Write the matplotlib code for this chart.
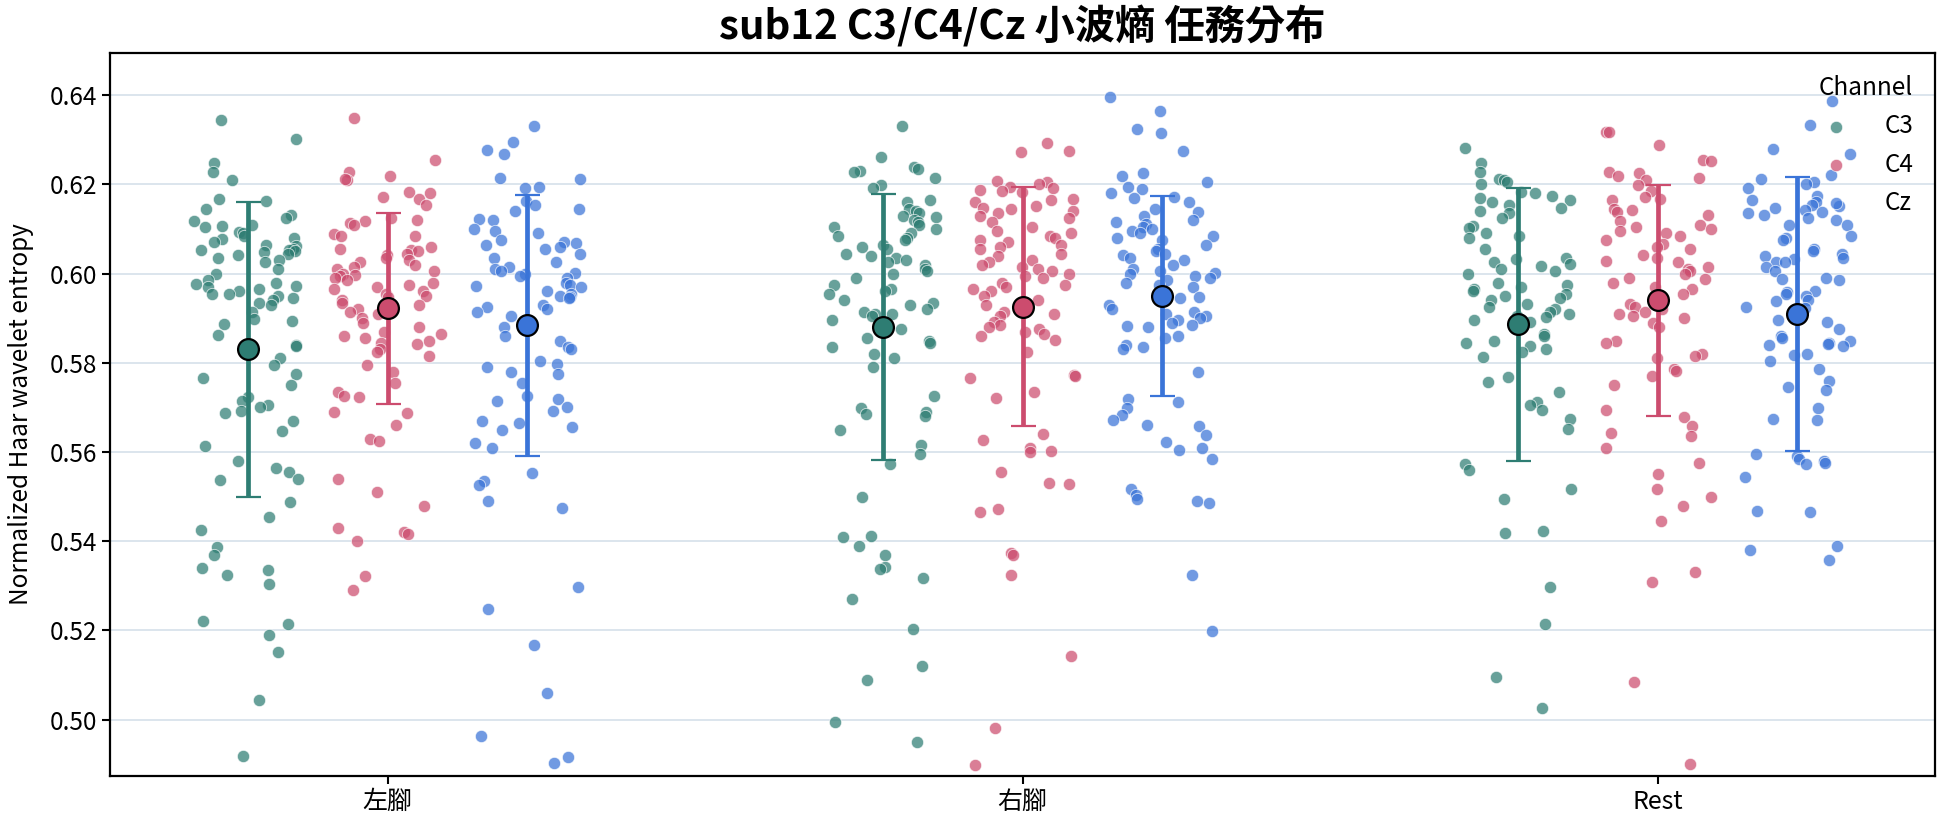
import numpy as np
import matplotlib
matplotlib.use("Agg")
import matplotlib.pyplot as plt

plt.rcParams['font.family'] = ['Noto Sans CJK TC', 'DejaVu Sans']

tasks = ['左腳', '右腳', 'Rest']
channels = ['C3', 'C4', 'Cz']
colors = ['#2e7d73', '#cc4c6e', '#3a74d8']

# per-trial entropy values
left_c3 = [0.6345, 0.6303, 0.6247, 0.6229, 0.6210, 0.6168, 0.6162, 0.6145, 0.6132, 0.6125,
           0.6119, 0.6110, 0.6105, 0.6107, 0.6094, 0.6090, 0.6085, 0.6080, 0.6078, 0.6072,
           0.6065, 0.6062, 0.6055, 0.6054, 0.6052, 0.6050, 0.6048, 0.6045, 0.6042, 0.6035,
           0.6030, 0.6025, 0.6010, 0.6000, 0.5985, 0.5980, 0.5977, 0.5973, 0.5970, 0.5965,
           0.5960, 0.5955, 0.5954, 0.5950, 0.5945, 0.5940, 0.5935, 0.5930, 0.5915, 0.5898,
           0.5893, 0.5888, 0.5862, 0.5840, 0.5838, 0.5835, 0.5810, 0.5795, 0.5775, 0.5765,
           0.5750, 0.5724, 0.5715, 0.5705, 0.5700, 0.5692, 0.5688, 0.5670, 0.5648, 0.5613,
           0.5580, 0.5565, 0.5555, 0.5540, 0.5538, 0.5487, 0.5455, 0.5425, 0.5388, 0.5370,
           0.5340, 0.5335, 0.5325, 0.5305, 0.5220, 0.5215, 0.5190, 0.5152, 0.5044, 0.4918]
left_c4 = [0.6350, 0.6255, 0.6227, 0.6220, 0.6210, 0.6213, 0.6182, 0.6180, 0.6172, 0.6168,
           0.6155, 0.6125, 0.6120, 0.6118, 0.6114, 0.6110, 0.6088, 0.6085, 0.6084, 0.6060,
           0.6055, 0.6052, 0.6050, 0.6045, 0.6042, 0.6035, 0.6030, 0.6025, 0.6020, 0.6015,
           0.6010, 0.6005, 0.6000, 0.5998, 0.5995, 0.5990, 0.5985, 0.5980, 0.5975, 0.5970,
           0.5965, 0.5960, 0.5955, 0.5950, 0.5947, 0.5940, 0.5935, 0.5930, 0.5920, 0.5915,
           0.5910, 0.5900, 0.5890, 0.5880, 0.5870, 0.5865, 0.5860, 0.5855, 0.5850, 0.5845,
           0.5843, 0.5830, 0.5825, 0.5815, 0.5795, 0.5780, 0.5755, 0.5735, 0.5725, 0.5724,
           0.5690, 0.5688, 0.5660, 0.5630, 0.5625, 0.5540, 0.5510, 0.5480, 0.5430, 0.5420,
           0.5415, 0.5400, 0.5323, 0.5290]
left_cz = [0.6332, 0.6295, 0.6277, 0.6268, 0.6215, 0.6213, 0.6195, 0.6192, 0.6162, 0.6155,
           0.6145, 0.6140, 0.6122, 0.6120, 0.6100, 0.6095, 0.6090, 0.6075, 0.6070, 0.6069,
           0.6065, 0.6060, 0.6055, 0.6045, 0.6035, 0.6025, 0.6015, 0.6010, 0.6005, 0.6002,
           0.6000, 0.5995, 0.5990, 0.5980, 0.5975, 0.5973, 0.5970, 0.5960, 0.5955, 0.5950,
           0.5948, 0.5945, 0.5930, 0.5925, 0.5920, 0.5915, 0.5905, 0.5880, 0.5860, 0.5850,
           0.5835, 0.5830, 0.5805, 0.5798, 0.5790, 0.5780, 0.5775, 0.5755, 0.5725, 0.5718,
           0.5715, 0.5702, 0.5692, 0.5670, 0.5665, 0.5655, 0.5650, 0.5620, 0.5610, 0.5552,
           0.5535, 0.5525, 0.5490, 0.5475, 0.5298, 0.5248, 0.5168, 0.5060, 0.4963, 0.4915,
           0.4902]
right_c3 = [0.6330, 0.6262, 0.6238, 0.6235, 0.6230, 0.6227, 0.6215, 0.6198, 0.6192, 0.6165,
            0.6160, 0.6145, 0.6140, 0.6135, 0.6130, 0.6128, 0.6120, 0.6115, 0.6110, 0.6105,
            0.6100, 0.6090, 0.6085, 0.6080, 0.6075, 0.6065, 0.6060, 0.6055, 0.6045, 0.6040,
            0.6035, 0.6030, 0.6025, 0.6020, 0.6010, 0.6005, 0.6000, 0.5990, 0.5975, 0.5965,
            0.5960, 0.5955, 0.5940, 0.5935, 0.5930, 0.5920, 0.5915, 0.5910, 0.5909, 0.5905,
            0.5895, 0.5885, 0.5875, 0.5855, 0.5850, 0.5845, 0.5835, 0.5820, 0.5810, 0.5790,
            0.5725, 0.5698, 0.5690, 0.5685, 0.5680, 0.5650, 0.5615, 0.5595, 0.5572, 0.5500,
            0.5412, 0.5410, 0.5390, 0.5368, 0.5342, 0.5338, 0.5318, 0.5270, 0.5203, 0.5120,
            0.5088, 0.4995, 0.4950]
right_c4 = [0.6292, 0.6272, 0.6275, 0.6207, 0.6205, 0.6200, 0.6195, 0.6192, 0.6188, 0.6185,
            0.6182, 0.6168, 0.6165, 0.6160, 0.6152, 0.6147, 0.6145, 0.6140, 0.6135, 0.6130,
            0.6125, 0.6115, 0.6105, 0.6095, 0.6090, 0.6085, 0.6080, 0.6075, 0.6070, 0.6065,
            0.6060, 0.6055, 0.6045, 0.6040, 0.6030, 0.6025, 0.6020, 0.6015, 0.6010, 0.6005,
            0.6000, 0.5995, 0.5990, 0.5980, 0.5975, 0.5970, 0.5965, 0.5960, 0.5950, 0.5940,
            0.5930, 0.5920, 0.5915, 0.5910, 0.5905, 0.5892, 0.5885, 0.5880, 0.5875, 0.5870,
            0.5865, 0.5860, 0.5852, 0.5825, 0.5773, 0.5770, 0.5765, 0.5735, 0.5720, 0.5640,
            0.5628, 0.5608, 0.5602, 0.5600, 0.5555, 0.5530, 0.5528, 0.5472, 0.5465, 0.5373,
            0.5368, 0.5325, 0.5142, 0.4980, 0.4898]
right_cz = [0.6395, 0.6365, 0.6325, 0.6315, 0.6275, 0.6225, 0.6220, 0.6205, 0.6195, 0.6190,
            0.6180, 0.6172, 0.6170, 0.6160, 0.6145, 0.6138, 0.6130, 0.6120, 0.6115, 0.6112,
            0.6105, 0.6100, 0.6095, 0.6090, 0.6085, 0.6080, 0.6075, 0.6065, 0.6055, 0.6050,
            0.6045, 0.6042, 0.6035, 0.6030, 0.6020, 0.6010, 0.6007, 0.6002, 0.6000, 0.5995,
            0.5990, 0.5985, 0.5980, 0.5975, 0.5970, 0.5945, 0.5947, 0.5940, 0.5930, 0.5920,
            0.5915, 0.5910, 0.5905, 0.5900, 0.5895, 0.5890, 0.5885, 0.5883, 0.5880, 0.5860,
            0.5855, 0.5840, 0.5835, 0.5830, 0.5780, 0.5718, 0.5712, 0.5698, 0.5683, 0.5672,
            0.5660, 0.5658, 0.5637, 0.5623, 0.5610, 0.5605, 0.5585, 0.5518, 0.5503, 0.5495,
            0.5490, 0.5485, 0.5325, 0.5198]
rest_c3 = [0.6282, 0.6248, 0.6228, 0.6212, 0.6210, 0.6205, 0.6200, 0.6182, 0.6180, 0.6175,
           0.6170, 0.6165, 0.6160, 0.6155, 0.6148, 0.6140, 0.6135, 0.6125, 0.6107, 0.6103,
           0.6090, 0.6085, 0.6080, 0.6055, 0.6035, 0.6032, 0.6025, 0.6022, 0.6017, 0.6010,
           0.6005, 0.6000, 0.5980, 0.5975, 0.5970, 0.5965, 0.5960, 0.5955, 0.5950, 0.5945,
           0.5940, 0.5932, 0.5925, 0.5920, 0.5915, 0.5910, 0.5905, 0.5903, 0.5897, 0.5892,
           0.5865, 0.5860, 0.5848, 0.5845, 0.5838, 0.5830, 0.5825, 0.5812, 0.5768, 0.5758,
           0.5735, 0.5712, 0.5705, 0.5695, 0.5675, 0.5652, 0.5572, 0.5560, 0.5517, 0.5495,
           0.5422, 0.5418, 0.5297, 0.5215, 0.5095, 0.5027]
rest_c4 = [0.6318, 0.6317, 0.6288, 0.6255, 0.6252, 0.6228, 0.6225, 0.6220, 0.6215, 0.6210,
           0.6198, 0.6185, 0.6172, 0.6168, 0.6165, 0.6145, 0.6142, 0.6138, 0.6132, 0.6118,
           0.6110, 0.6105, 0.6100, 0.6095, 0.6090, 0.6085, 0.6075, 0.6067, 0.6060, 0.6055,
           0.6042, 0.6035, 0.6028, 0.6025, 0.6015, 0.6010, 0.6005, 0.6000, 0.5990, 0.5987,
           0.5980, 0.5970, 0.5965, 0.5955, 0.5932, 0.5925, 0.5920, 0.5913, 0.5910, 0.5905,
           0.5900, 0.5890, 0.5880, 0.5850, 0.5845, 0.5820, 0.5815, 0.5810, 0.5785, 0.5782,
           0.5770, 0.5750, 0.5695, 0.5678, 0.5658, 0.5642, 0.5635, 0.5610, 0.5575, 0.5550,
           0.5518, 0.5498, 0.5478, 0.5445, 0.5330, 0.5308, 0.5085, 0.4900]
rest_cz = [0.6388, 0.6333, 0.6280, 0.6268, 0.6222, 0.6212, 0.6205, 0.6200, 0.6192, 0.6175,
           0.6165, 0.6160, 0.6155, 0.6152, 0.6148, 0.6142, 0.6138, 0.6135, 0.6132, 0.6125,
           0.6120, 0.6110, 0.6108, 0.6085, 0.6080, 0.6075, 0.6055, 0.6050, 0.6045, 0.6040,
           0.6035, 0.6032, 0.6027, 0.6025, 0.6015, 0.6005, 0.5990, 0.5988, 0.5985, 0.5960,
           0.5958, 0.5955, 0.5950, 0.5940, 0.5938, 0.5925, 0.5922, 0.5895, 0.5892, 0.5875,
           0.5860, 0.5855, 0.5850, 0.5845, 0.5842, 0.5840, 0.5838, 0.5820, 0.5818, 0.5805,
           0.5785, 0.5760, 0.5745, 0.5740, 0.5698, 0.5675, 0.5672, 0.5595, 0.5592, 0.5585,
           0.5580, 0.5575, 0.5572, 0.5545, 0.5468, 0.5465, 0.5390, 0.5380, 0.5358]

values = [[left_c3, left_c4, left_cz],
          [right_c3, right_c4, right_cz],
          [rest_c3, rest_c4, rest_cz]]

# mean and standard deviation shown as the big markers / error bars
means = [[0.5830, 0.5922, 0.5884],
         [0.5880, 0.5926, 0.5950],
         [0.5886, 0.5940, 0.5910]]
sds = [[0.0331, 0.0214, 0.0293],
       [0.0299, 0.0268, 0.0224],
       [0.0307, 0.0259, 0.0307]]

offsets = [-0.22, 0.0, 0.22]
rng = np.random.default_rng(12)

fig = plt.figure(figsize=(19.44, 8.27), dpi=100)
ax = fig.add_axes([0.0566, 0.062, 0.9388, 0.8735])

for ti in range(len(tasks)):
    for ci in range(len(channels)):
        y = np.array(values[ti][ci])
        x = ti + offsets[ci] + rng.uniform(-0.085, 0.085, len(y))
        ax.scatter(x, y, s=78, color=colors[ci], alpha=0.72, edgecolor='white',
                   linewidth=0.6, zorder=2, label=channels[ci] if ti == 0 else None)
        ax.errorbar(ti + offsets[ci], means[ti][ci], yerr=sds[ti][ci], fmt='o',
                    color=colors[ci], ecolor=colors[ci], elinewidth=3.4, capsize=9,
                    capthick=1.8, markersize=15, markeredgecolor='black',
                    markeredgewidth=1.6, zorder=4)

ax.set_xlim(-0.437, 2.437)
ax.set_ylim(0.4874, 0.6494)
ax.set_xticks(range(len(tasks)))
ax.set_xticklabels(tasks, fontsize=18)
ax.set_yticks(np.arange(0.50, 0.641, 0.02))
ax.yaxis.set_major_formatter(matplotlib.ticker.FormatStrFormatter('%.2f'))
ax.tick_params(axis='y', labelsize=17.5)
ax.tick_params(width=1.5, length=6)
ax.grid(axis='y', color='#d5e0ea', linewidth=1.2)
ax.set_axisbelow(True)
for s in ax.spines.values():
    s.set_linewidth(1.6)

ax.set_ylabel('Normalized Haar wavelet entropy', fontsize=17.5, labelpad=11)
ax.set_title('sub12 C3/C4/Cz 小波熵 任務分布', fontsize=29, fontweight='bold', pad=10)

leg = ax.legend(title='Channel', loc='upper right', frameon=False, fontsize=17.5,
                title_fontsize=17.5, alignment='right', handletextpad=1.0)

fig.savefig('out.png', dpi=100)
